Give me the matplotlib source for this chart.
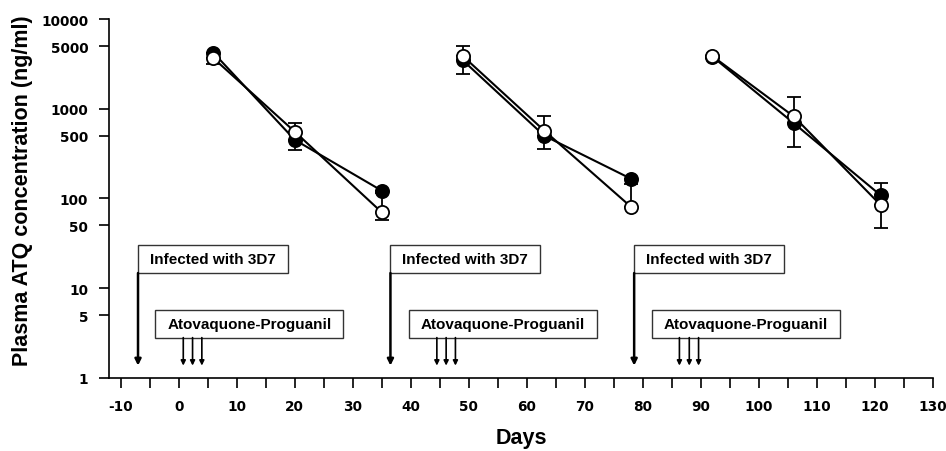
import matplotlib
matplotlib.use("Agg")
import matplotlib.pyplot as plt
from matplotlib.patches import Rectangle
from matplotlib.transforms import blended_transform_factory

plt.rcParams['font.family'] = ['Liberation Sans', 'DejaVu Sans']
plt.rcParams['font.weight'] = 'bold'

# ---- data ----
cycle_days = [[6, 20, 35], [49, 63, 78], [92, 106, 121]]
filled_vals = [[4200, 450, 122], [3450, 500, 165], [3800, 690, 108]]
open_vals = [[3650, 555, 70], [3850, 570, 80], [3850, 820, 84]]
# error bar ends (None = no bar)
filled_lo = [[None, 350, None], [2420, 356, None], [None, 370, None]]
filled_hi = [[None, None, None], [None, None, None], [None, None, 149]]
open_lo = [[3150, None, 57], [None, None, None], [None, None, 47]]
open_hi = [[None, 690, 115], [5040, 823, 143], [None, 1360, None]]

infection_days = [-7, 36.5, 78.5]
dose_days = [[0.8, 2.4, 4.0], [44.5, 46.1, 47.7], [86.3, 88.0, 89.6]]
infection_label = "Infected with 3D7"
dose_label = "Atovaquone-Proguanil"

xticks = list(range(-10, 131, 10))
xminor = list(range(-5, 131, 10))
yticks = [1, 5, 10, 50, 100, 500, 1000, 5000, 10000]
ytick_labels = ["1", "5", "10", "50", "100", "500", "1000", "5000", "10000"]

# ---- figure ----
W, H = 946, 452
fig = plt.figure(figsize=(W / 100, H / 100), dpi=100)
ax = fig.add_axes([109 / W, 1 - 378.8 / H, (933 - 109) / W, (378.8 - 20) / H])

ax.set_yscale('log')
ax.set_xlim(-12, 130)
ax.set_ylim(1, 10000)

for sp in ['top', 'right']:
    ax.spines[sp].set_visible(False)
for sp in ['left', 'bottom']:
    ax.spines[sp].set_linewidth(1.2)
ax.spines['bottom'].set_bounds(-12, 130)

tick_font = dict(family='DejaVu Sans', weight='bold', size=9.8)
ax.set_xticks(xticks)
ax.set_xticklabels([str(t) for t in xticks], fontdict=tick_font)
ax.set_xticks(xminor, minor=True)
ax.set_yticks(yticks)
ax.set_yticklabels(ytick_labels, fontdict=tick_font)
ax.yaxis.set_minor_locator(matplotlib.ticker.NullLocator())
ax.tick_params(axis='both', which='both', direction='out', length=7, width=1.2)
ax.tick_params(axis='x', which='major', pad=8)
ax.tick_params(axis='y', which='major', pad=8)

ax.set_xlabel("Days", fontsize=15.5, fontweight='bold')
ax.set_ylabel("Plasma ATQ concentration (ng/ml)", fontsize=15.5, fontweight='bold')
ax.xaxis.set_label_coords(0.5, -0.138)
ax.yaxis.set_label_coords(-0.092, 0.523)


def err_arrays(vals, lo, hi):
    lower, upper = [], []
    for v, l, h in zip(vals, lo, hi):
        lower.append(v - l if l is not None else 0)
        upper.append(h - v if h is not None else 0)
    return [lower, upper]


for i in range(3):
    d = cycle_days[i]
    # filled series
    ax.errorbar(d, filled_vals[i], yerr=err_arrays(filled_vals[i], filled_lo[i], filled_hi[i]),
                fmt='none', ecolor='black', elinewidth=1.3, capsize=5, capthick=1.3, zorder=2)
    ax.plot(d, filled_vals[i], '-', color='black', lw=1.5, marker='o', ms=9.5,
            mfc='black', mec='black', mew=1.3, zorder=3)
    # open series
    ax.errorbar(d, open_vals[i], yerr=err_arrays(open_vals[i], open_lo[i], open_hi[i]),
                fmt='none', ecolor='black', elinewidth=1.3, capsize=5, capthick=1.3, zorder=2)
    ax.plot(d, open_vals[i], '-', color='black', lw=1.5, marker='o', ms=9.5,
            mfc='white', mec='black', mew=1.3, zorder=4)

trans = blended_transform_factory(ax.transData, ax.transAxes)

inf_box_w = 25.8
inf_y0, inf_h = 0.292, 0.079
dose_box_w = 32.4
dose_offset = 4.8
dose_y0, dose_h = 0.112, 0.078
arrow_tip = 0.034

for k in range(3):
    x0 = infection_days[k]
    ax.add_patch(Rectangle((x0, inf_y0), inf_box_w, inf_h, transform=trans,
                           facecolor='white', edgecolor='#333333', lw=1.0, zorder=5))
    ax.text(x0 + inf_box_w / 2, inf_y0 + inf_h / 2, infection_label, transform=trans,
            ha='center', va='center', fontsize=11, fontweight='bold', zorder=6)
    ax.annotate('', xy=(x0, arrow_tip), xytext=(x0, inf_y0), xycoords=trans, textcoords=trans,
                arrowprops=dict(arrowstyle='-|>', color='black', lw=1.8,
                                mutation_scale=9, shrinkA=0, shrinkB=0), zorder=6)

    bx = dose_days[k][0] - dose_offset
    ax.add_patch(Rectangle((bx, dose_y0), dose_box_w, dose_h, transform=trans,
                           facecolor='white', edgecolor='#333333', lw=1.0, zorder=5))
    ax.text(bx + dose_box_w / 2, dose_y0 + dose_h / 2, dose_label, transform=trans,
            ha='center', va='center', fontsize=11, fontweight='bold', zorder=6)
    for dd in dose_days[k]:
        ax.annotate('', xy=(dd, arrow_tip), xytext=(dd, dose_y0), xycoords=trans, textcoords=trans,
                    arrowprops=dict(arrowstyle='-|>', color='black', lw=1.2,
                                    mutation_scale=7, shrinkA=0, shrinkB=0), zorder=6)

fig.savefig("out.png", dpi=100)
